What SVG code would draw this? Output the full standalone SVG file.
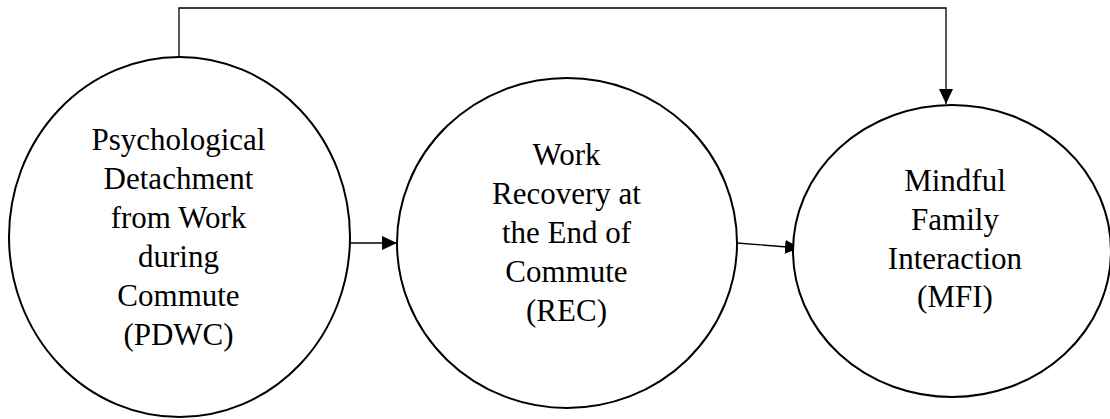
<svg xmlns="http://www.w3.org/2000/svg" width="1110" height="419" viewBox="0 0 1110 419">
<style>
.node{fill:#fff;stroke:#000;stroke-width:2}
.lbl{font-family:'Liberation Serif','Times New Roman','DejaVu Serif',serif;font-size:31px;fill:#000;text-anchor:middle}
.conn{fill:none;stroke:#000;stroke-width:1.3}
</style>
<defs>
<marker id="ah" viewBox="0 0 15 14" refX="15" refY="7" markerWidth="15" markerHeight="14" markerUnits="userSpaceOnUse" orient="auto">
<path d="M0,0 L15,7 L0,14 Z" fill="#000"/>
</marker>
</defs>
<g id="connectors">
<path class="conn" d="M179,57 V8 H946 V104" marker-end="url(#ah)"/>
<path class="conn" d="M350,243 H397" marker-end="url(#ah)"/>
<path class="conn" d="M737,243 L800,248" marker-end="url(#ah)"/>
</g>
<g id="pdwc">
<ellipse class="node" cx="179.5" cy="237" rx="170.5" ry="180"/>
<text class="lbl" font-family="Liberation Serif, serif" x="178.5" y="150">Psychological</text>
<text class="lbl" font-family="Liberation Serif, serif" x="178.5" y="189">Detachment</text>
<text class="lbl" font-family="Liberation Serif, serif" x="178.5" y="228">from Work</text>
<text class="lbl" font-family="Liberation Serif, serif" x="178.5" y="267">during</text>
<text class="lbl" font-family="Liberation Serif, serif" x="178.5" y="306">Commute</text>
<text class="lbl" font-family="Liberation Serif, serif" x="178.5" y="345">(PDWC)</text>
</g>
<g id="rec">
<ellipse class="node" cx="567" cy="243" rx="170" ry="165"/>
<text class="lbl" font-family="Liberation Serif, serif" x="566.5" y="165">Work</text>
<text class="lbl" font-family="Liberation Serif, serif" x="566.5" y="204">Recovery at</text>
<text class="lbl" font-family="Liberation Serif, serif" x="566.5" y="243">the End of</text>
<text class="lbl" font-family="Liberation Serif, serif" x="566.5" y="282">Commute</text>
<text class="lbl" font-family="Liberation Serif, serif" x="566.5" y="321">(REC)</text>
</g>
<g id="mfi">
<ellipse class="node" cx="952" cy="251" rx="159" ry="146"/>
<text class="lbl" font-family="Liberation Serif, serif" x="955" y="191">Mindful</text>
<text class="lbl" font-family="Liberation Serif, serif" x="955" y="230">Family</text>
<text class="lbl" font-family="Liberation Serif, serif" x="955" y="269">Interaction</text>
<text class="lbl" font-family="Liberation Serif, serif" x="955" y="307">(MFI)</text>
</g>
</svg>
